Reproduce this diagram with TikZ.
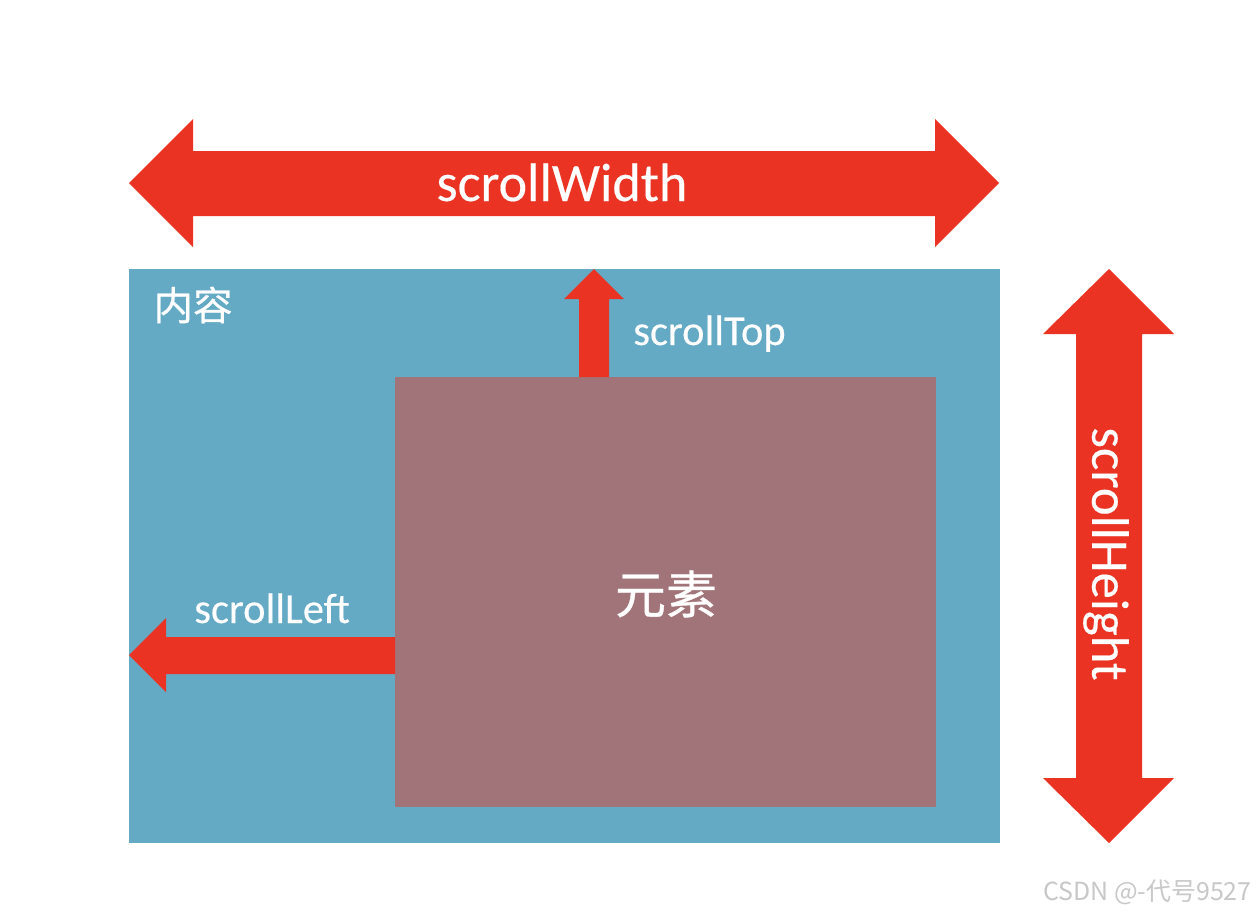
\documentclass[tikz,border=0pt]{standalone}
\usepackage{fontspec}
\setmainfont{Carlito}[FakeBold=0.3]
\newfontfamily\cjk{Noto Sans CJK SC}[FakeBold=0.6]
\newfontfamily\wmfont{Noto Sans CJK SC}
\definecolor{arrred}{RGB}{234,51,35}
\definecolor{cntblue}{RGB}{100,170,196}
\definecolor{elmauve}{RGB}{161,116,121}
\definecolor{wmgray}{RGB}{200,200,200}
\begin{document}
\begin{tikzpicture}[x=0.02cm,y=-0.02cm,
  arrowshape/.style={fill=arrred,draw=none},
  lbl/.style={text=white,inner sep=0pt},
  biglbl/.style={lbl,font=\fontsize{30.8}{30.8}\selectfont},
  midlbl/.style={lbl,font=\fontsize{24.2}{24.2}\selectfont}]
\useasboundingbox[fill=white] (0,0) rectangle (1258,914);
% content box
\fill[cntblue] (129,269) rectangle (1000,843);
% element box
\fill[elmauve] (395,377) rectangle (936,807);
% scrollWidth double arrow
\fill[arrowshape] (129,183) -- (193,119) -- (193,151) -- (935,151) -- (935,119) -- (999,183)
  -- (935,247) -- (935,216) -- (193,216) -- (193,247) -- cycle;
% scrollHeight double arrow
\fill[arrowshape] (1109,269) -- (1174,334) -- (1142,334) -- (1142,778) -- (1174,778) -- (1109,843)
  -- (1043,778) -- (1076,778) -- (1076,334) -- (1043,334) -- cycle;
% scrollTop arrow
\fill[arrowshape] (594,269) -- (624,299) -- (609,299) -- (609,377) -- (579,377) -- (579,299) -- (564,299) -- cycle;
% scrollLeft arrow
\fill[arrowshape] (129,655) -- (166,618) -- (166,637) -- (395,637) -- (395,674) -- (166,674) -- (166,692) -- cycle;
% labels
\node[biglbl,anchor=base] (sw) at (562,201) {scrollWidth};
\node[lbl,rotate=-90,font=\fontsize{30}{30}\selectfont] (sh) at (1106,554) {scrollHeight};
\node[midlbl,anchor=base west] (st) at (633,345) {scrollTop};
\node[midlbl,anchor=base west] (sl) at (194,623) {scrollLeft};
\node[lbl,font=\cjk\fontsize{22.5}{22.5}\selectfont] (nr) at (193,305) {内容};
\node[lbl,font=\cjk\fontsize{29}{29}\selectfont] (ys) at (666,594) {元素};
\node[inner sep=0pt,text=wmgray,font=\wmfont\fontsize{14.2}{14.2}\selectfont,anchor=east] (wm) at (1252,892) {CSDN @-代号9527};
\end{tikzpicture}
\end{document}
